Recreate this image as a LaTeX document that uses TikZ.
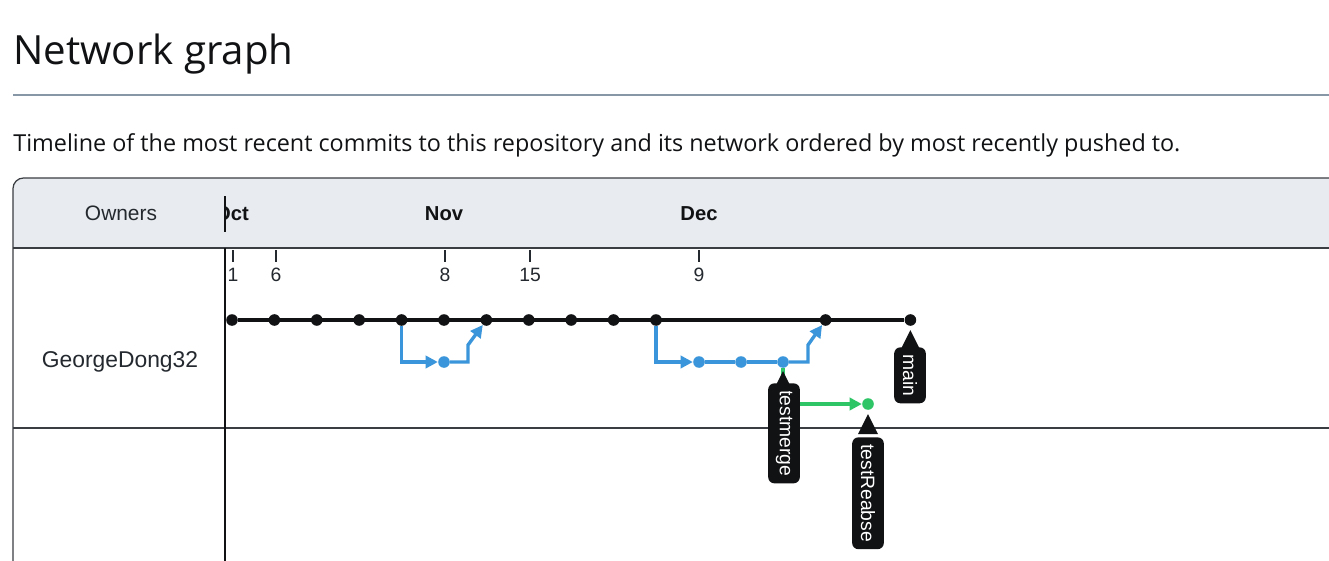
\documentclass[tikz,border=0pt]{standalone}
\usepackage{fontspec}
\setmainfont{Liberation Sans}
\newfontfamily\headfont{Open Sans}
\usetikzlibrary{arrows.meta}

\definecolor{inkblack}{HTML}{111214}
\definecolor{branchblue}{HTML}{3B95DA}
\definecolor{branchgreen}{HTML}{2EC566}
\definecolor{headgrey}{HTML}{E8ECF0}
\definecolor{rulegrey}{HTML}{8797A6}
\definecolor{gridgrey}{HTML}{3A3D42}
\definecolor{textgrey}{HTML}{24292F}

\tikzset{
  commit/.style={circle,fill=#1,inner sep=0pt,minimum size=6.6pt},
  commit/.default=inkblack,
  mainline/.style={inkblack,line width=2.1pt},
  blueline/.style={branchblue,line width=1.9pt,-{Triangle[length=7pt,width=7pt]}},
  greenline/.style={branchgreen,line width=1.9pt,-{Triangle[length=7pt,width=7pt]}},
  tagbox/.style={fill=inkblack,text=white,rotate=-90,rounded corners=3.5pt,
    inner xsep=4pt,minimum height=18pt,font=\fontsize{11}{13}\selectfont,anchor=west},
  tick/.style={textgrey,line width=0.9pt},
  month/.style={font=\fontsize{11.5}{13}\selectfont\bfseries,text=inkblack},
  day/.style={font=\fontsize{11}{13}\selectfont,text=textgrey},
}

\begin{document}
\begin{tikzpicture}[x=0.02cm,y=-0.02cm]
\clip (0,0) rectangle (1329,561);
\fill[white] (0,0) rectangle (1329,561);

% heading
\node[anchor=base west,inner sep=0pt,text=inkblack,font=\headfont\fontsize{22.9}{26}\selectfont] (title) at (13,64) {Network graph};
\draw[rulegrey,line width=0.7pt] (13,95) -- (1340,95);
\node[anchor=base west,inner sep=0pt,text=inkblack,font=\headfont\fontsize{13.3}{16}\selectfont] (subtitle) at (13,151) {Timeline of the most recent commits to this repository and its network ordered by most recently pushed to.};

% frame and header band
\begin{scope}
\clip[rounded corners=6pt] (13,178) rectangle (1400,700);
\fill[headgrey] (13,178) rectangle (1400,248);
\end{scope}
\draw[gridgrey,line width=0.7pt,rounded corners=6pt] (13,178) rectangle (1400,700);
\draw[gridgrey,line width=1pt] (13,248) -- (1400,248);
\draw[gridgrey,line width=1pt] (13,428) -- (1400,428);
\draw[inkblack,line width=0.9pt] (225,248) -- (225,600);
\draw[inkblack,line width=0.9pt] (225,196) -- (225,232);

\node[font=\fontsize{11.9}{13}\selectfont,text=textgrey] (owners) at (121,213) {Owners};
\node[font=\fontsize{13}{15}\selectfont,text=textgrey] (owner) at (120,362) {GeorgeDong32};

% months
\begin{scope}
\clip (225.5,180) rectangle (400,246);
\node[month] (moct) at (232,214) {Oct};
\end{scope}
\node[month] (mnov) at (444,214) {Nov};
\node[month] (mdec) at (699,214) {Dec};

% days
\foreach \x/\d in {233/1,276/6,445/8,530/15,699/9}{
  \draw[tick] (\x,250) -- (\x,262);
  \node[day] at (\x,275) {\d};
}

% commits on main
\foreach \i in {0,...,10,14,16}{
  \node[commit] (c\i) at (232+42.4*\i,320) {};
}
% branch commits
\node[commit=branchblue] (b5) at (444,362) {};
\node[commit=branchblue] (b11) at (699,362) {};
\node[commit=branchblue] (b12) at (741,362) {};
\node[commit=branchblue] (b13) at (783,362) {};
\node[commit=branchgreen] (g15) at (868,404) {};
\coordinate (k5) at (468,345);
\coordinate (k13) at (808,345);

\draw[mainline] (c0) -- (c16);

\draw[blueline] (c4) |- (b5);
\draw[blueline] (b5) -| (k5) -- (c6);
\draw[blueline] (c10) |- (b11);
\draw[branchblue,line width=1.9pt] (b11) -- (b12) -- (b13);
\draw[blueline] (b13) -| (k13) -- (c14);
\draw[greenline] (b13) |- (g15);

% branch tags
\node[tagbox] (tagmain) at (910,347) {main};
\fill[inkblack] (c16.south) ++(0,4) -- ++(-10,20) -- ++(20,0) -- cycle;
\node[tagbox] (tagmerge) at (784,383) {testmerge};
\fill[inkblack] (b13.south) ++(0,3) -- ++(-10,20) -- ++(20,0) -- cycle;
\node[tagbox] (tagrebase) at (868,437) {testReabse};
\fill[inkblack] (g15.south) ++(0,4) -- ++(-10,20) -- ++(20,0) -- cycle;
\end{tikzpicture}
\end{document}
